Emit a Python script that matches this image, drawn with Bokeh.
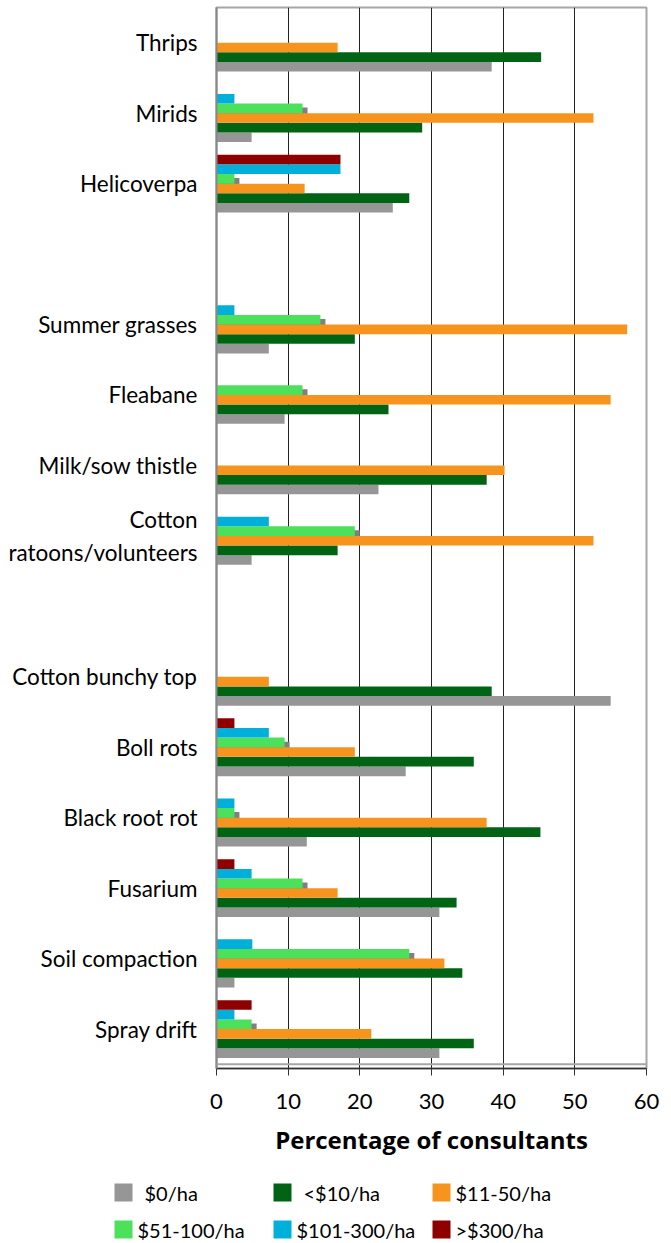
from bokeh.plotting import figure
from bokeh.models import Range1d, FixedTicker, Span
from bokeh.core.properties import value
from bokeh.embed import file_html
from bokeh.resources import INLINE

categories = ["Thrips", "Mirids", "Helicoverpa", "",
              "Summer grasses", "Fleabane", "Milk/sow thistle", "Cotton\nratoons/volunteers", "",
              "Cotton bunchy top", "Boll rots", "Black root rot", "Fusarium", "Soil compaction", "Spray drift"]

series_names = ["$0/ha", "<$10/ha", "$11-50/ha", "$51-100/ha", "$101-300/ha", ">$300/ha"]
series_colors = ["#969696", "#006414", "#F7941E", "#4CE15A", "#00B0DA", "#8E0000"]

v_zero    = [38.4, 4.9, 24.6, 0, 7.3, 9.5, 22.6, 4.9, 0, 55.0, 26.4, 12.6, 31.1, 2.5, 31.1]
v_lt10    = [45.3, 28.7, 26.9, 0, 19.3, 24.0, 37.7, 16.9, 0, 38.4, 35.9, 45.2, 33.5, 34.3, 35.9]
v_11_50   = [16.9, 52.6, 12.3, 0, 57.3, 55.0, 40.2, 52.6, 0, 7.3, 19.3, 37.7, 16.9, 31.8, 21.6]
v_51_100  = [0, 12.0, 2.5, 0, 14.5, 12.0, 0, 19.3, 0, 0, 9.5, 2.5, 12.0, 26.9, 4.9]
v_101_300 = [0, 2.5, 17.3, 0, 2.5, 0, 0, 7.3, 0, 0, 7.3, 2.5, 4.9, 5.0, 2.5]
v_gt300   = [0, 0, 17.3, 0, 0, 0, 0, 0, 0, 0, 2.5, 0, 2.5, 0, 4.9]
series_values = [v_zero, v_lt10, v_11_50, v_51_100, v_101_300, v_gt300]

x_ticks = [0, 10, 20, 30, 40, 50, 60]

FONT = "Lato"
W = 671
H_MAIN = 1170
H_LEG = 70

n = len(categories)
centers = [n - i - 0.5 for i in range(n)]
group_w = 0.82
bar_h = group_w / 6

p = figure(width=W, height=H_MAIN, output_backend="svg", toolbar_location=None,
           x_range=Range1d(0, 60), y_range=Range1d(-0.06, n),
           min_border_left=216, min_border_right=25, min_border_top=7, min_border_bottom=102)
p.outline_line_color = "#A6A6A6"
p.outline_line_width = 2
p.background_fill_color = "white"
p.border_fill_color = "white"

# shadow behind the light green bars
sy, sr = [], []
for c, v in zip(centers, v_51_100):
    if v > 0:
        sy.append(c - group_w / 2 + 3.5 * bar_h - 0.057)
        sr.append(v + 0.7)
p.hbar(y=sy, left=0, right=sr, height=bar_h, fill_color="#808080", line_color=None)

for j, (vals, col) in enumerate(zip(series_values, series_colors)):
    ys, rs = [], []
    for c, v in zip(centers, vals):
        if v > 0:
            ys.append(c - group_w / 2 + (j + 0.5) * bar_h)
            rs.append(v)
    p.hbar(y=ys, left=0, right=rs, height=bar_h, fill_color=col, line_color=None)

p.add_layout(Span(location=0, dimension="width", line_color="#A6A6A6", line_width=2))

p.xgrid.ticker = FixedTicker(ticks=x_ticks)
p.xgrid.grid_line_color = "#222222"
p.xgrid.grid_line_width = 1
p.ygrid.grid_line_color = None

xa = p.xaxis[0]
xa.ticker = FixedTicker(ticks=x_ticks)
xa.axis_line_color = "#333333"
xa.axis_line_width = 1.5
xa.major_tick_line_color = "#333333"
xa.major_tick_out = 7
xa.major_tick_in = 0
xa.minor_tick_line_color = None
xa.major_label_text_font = FONT
xa.major_label_text_font_size = "22px"
xa.major_label_text_color = "black"
xa.major_label_standoff = 18
xa.axis_label = "Percentage of consultants"
xa.axis_label_text_font = "Open Sans"
xa.axis_label_text_font_size = "24px"
xa.axis_label_text_font_style = "bold"
xa.axis_label_text_color = "black"
xa.axis_label_standoff = 11

ya = p.yaxis[0]
ya.ticker = FixedTicker(ticks=centers)
ya.major_label_overrides = {c: lab for c, lab in zip(centers, categories)}
ya.axis_line_color = "#888888"
ya.axis_line_width = 2
ya.major_tick_line_color = None
ya.major_tick_out = 0
ya.minor_tick_line_color = None
ya.major_label_text_font = FONT
ya.major_label_text_font_size = "22.5px"
ya.major_label_text_color = "black"
ya.major_label_standoff = 19

# legend figure (separate root so its frame is not aligned with the chart)
leg = figure(width=W, height=H_LEG, output_backend="svg", toolbar_location=None,
             x_range=Range1d(0, W), y_range=Range1d(0, H_LEG),
             min_border=0)
leg.outline_line_color = None
leg.axis.visible = False
leg.grid.visible = False
leg_sq_left = [114, 273, 432, 114, 273, 432]
leg_row_y = [48, 48, 48, 11, 11, 11]
leg_text_x = [144, 303, 455, 137, 296, 455]
leg.rect(x=[x + 9 for x in leg_sq_left], y=leg_row_y, width=18, height=18,
         fill_color=series_colors, line_color=None)
leg.text(x=leg_text_x, y=leg_row_y, text=series_names, text_font=value(FONT), text_font_size="20px",
         text_baseline="middle", text_align="left", text_color="black")

open("out.html", "w").write(file_html([p, leg], INLINE))
